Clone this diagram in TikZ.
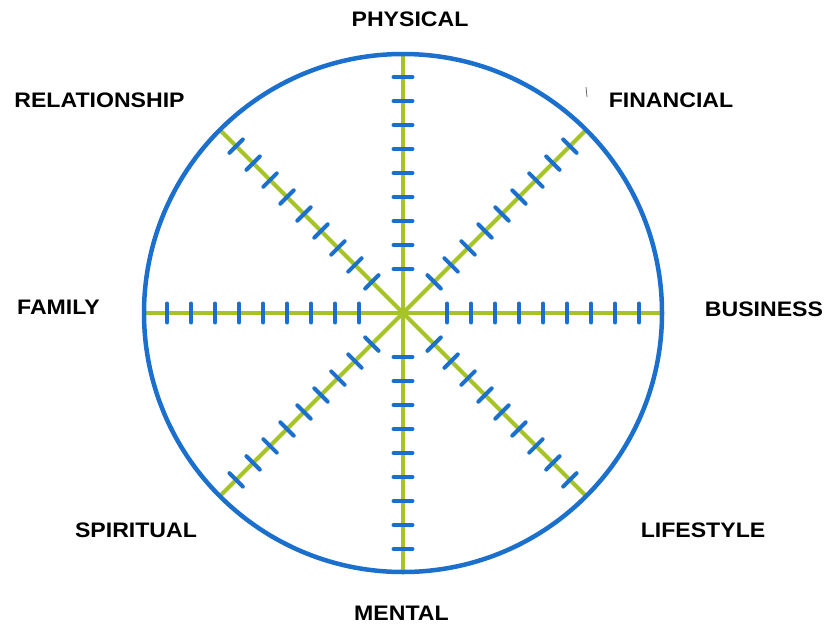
\documentclass[tikz,border=0pt]{standalone}
\usepackage{graphicx}
\usepackage{fontspec}
\setmainfont{Liberation Sans}
\usetikzlibrary{calc}
\definecolor{spokecol}{RGB}{166,196,40}
\definecolor{rimcol}{RGB}{28,112,205}
\begin{document}
\begin{tikzpicture}[x=1pt,y=-1pt,
  lab/.style={font=\fontsize{21}{21}\selectfont\bfseries, inner sep=0pt},
  spokeline/.style={spokecol, line width=4.2pt},
  tickline/.style={rimcol, line width=4pt, line cap=round},
  rimline/.style={rimcol, line width=4.5pt}]
\useasboundingbox (0,0) rectangle (835,624);
\coordinate (c) at (403,313);
\foreach \a in {0,45,...,315}{
  \draw[spokeline] (c) -- ++(\a:259);
}
\foreach \a in {0,45,...,315}{
  \foreach \k in {0,...,8}{
    \draw[tickline] ($(c)+(\a:{44+24*\k})$) ++(\a+90:9.5) -- ++(\a-90:19);
  }
}
\draw[rimline] (c) circle[radius=259];
\draw[black!60, line width=0.8pt] (586,87) -- (587,97);
\node[lab] (physical) at (410,19.5) {\scalebox{1.1}[1]{PHYSICAL}};
\node[lab] (relationship) at (99.5,100) {\scalebox{1.1}[1]{RELATIONSHIP}};
\node[lab] (financial) at (671,100) {\scalebox{1.1}[1]{FINANCIAL}};
\node[lab] (family) at (58.5,307) {\scalebox{1.1}[1]{FAMILY}};
\node[lab] (business) at (764,309) {\scalebox{1.1}[1]{BUSINESS}};
\node[lab] (spiritual) at (136,530) {\scalebox{1.1}[1]{SPIRITUAL}};
\node[lab] (lifestyle) at (703,530) {\scalebox{1.1}[1]{LIFESTYLE}};
\node[lab] (mental) at (401.5,613) {\scalebox{1.1}[1]{MENTAL}};
\end{tikzpicture}
\end{document}
